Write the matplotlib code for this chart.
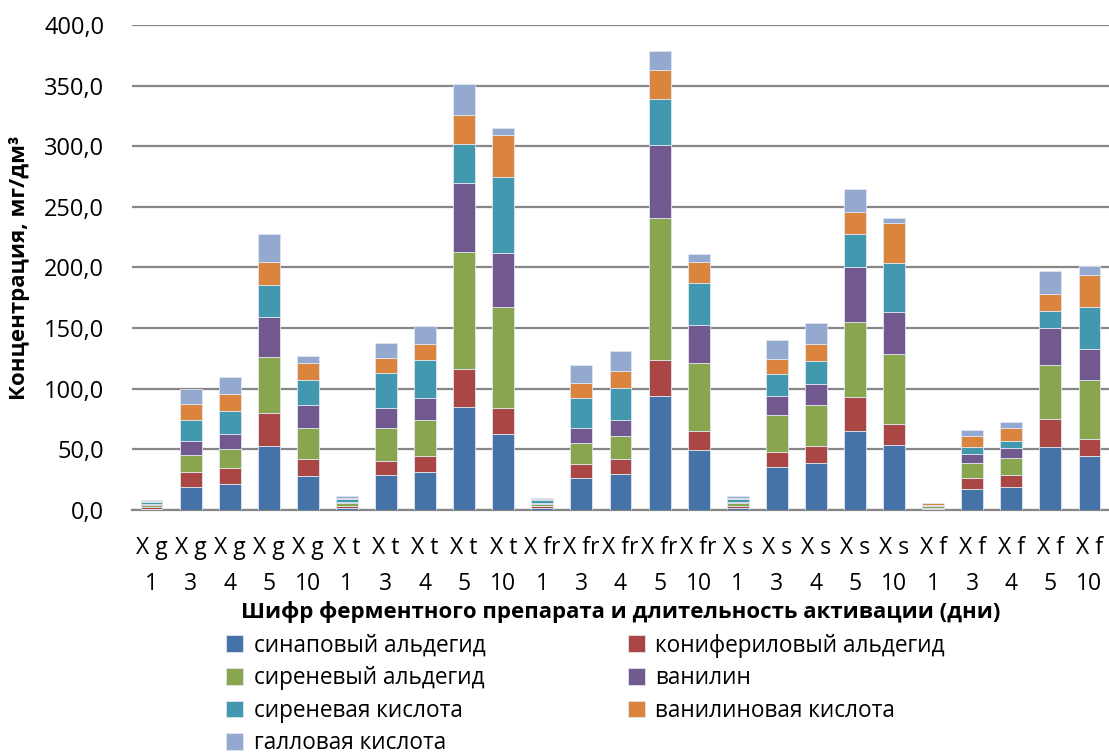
import matplotlib
matplotlib.use("Agg")
import matplotlib.pyplot as plt
import numpy as np

plt.rcParams['font.family'] = ['Open Sans', 'DejaVu Sans']

categories = ["X g\n1", "X g\n3", "X g\n4", "X g\n5", "X g\n10",
              "X t\n1", "X t\n3", "X t\n4", "X t\n5", "X t\n10",
              "X fr\n1", "X fr\n3", "X fr\n4", "X fr\n5", "X fr\n10",
              "X s\n1", "X s\n3", "X s\n4", "X s\n5", "X s\n10",
              "X f\n1", "X f\n3", "X f\n4", "X f\n5", "X f\n10"]

series_names = ["синаповый альдегид", "конифериловый альдегид",
                "сиреневый альдегид", "ванилин",
                "сиреневая кислота", "ванилиновая кислота",
                "галловая кислота"]

sinapaldehyde = [1.0, 19.2, 21.1, 52.4, 28.3,
                 2.0, 28.8, 31.3, 84.6, 62.6,
                 2.0, 26.4, 29.4, 94.2, 49.1,
                 2.0, 35.4, 38.7, 64.8, 53.6,
                 1.0, 17.3, 19.2, 51.9, 44.2]
coniferaldehyde = [1.5, 11.8, 13.5, 27.5, 13.7,
                   1.5, 11.8, 13.5, 31.9, 21.2,
                   1.0, 11.5, 12.3, 29.9, 15.7,
                   1.0, 12.6, 13.7, 28.0, 17.0,
                   1.0, 8.8, 9.6, 23.1, 14.0]
syringaldehyde = [1.5, 14.6, 15.6, 46.4, 25.6,
                  2.0, 26.7, 29.4, 96.4, 83.5,
                  2.0, 17.6, 19.3, 116.5, 56.6,
                  3.0, 30.5, 34.1, 62.1, 58.0,
                  1.0, 12.3, 13.7, 44.8, 49.4]
vanillin = [1.0, 11.2, 12.1, 32.5, 18.6,
            1.5, 16.5, 17.8, 57.1, 45.0,
            1.0, 12.1, 13.2, 60.7, 31.3,
            1.0, 15.7, 17.0, 45.1, 34.3,
            0.5, 7.7, 8.3, 29.9, 24.8]
syringic_acid = [1.5, 17.1, 19.0, 26.6, 20.6,
                 2.0, 28.8, 31.3, 32.2, 62.1,
                 2.0, 24.4, 26.8, 37.4, 34.4,
                 2.0, 17.6, 19.6, 27.2, 40.4,
                 1.0, 5.5, 6.1, 14.0, 35.4]
vanillic_acid = [1.0, 13.2, 14.6, 19.5, 14.3,
                 1.0, 12.4, 14.0, 23.9, 35.2,
                 1.0, 12.4, 13.6, 23.9, 17.3,
                 1.0, 12.6, 13.7, 18.7, 33.5,
                 1.0, 9.6, 10.4, 14.3, 26.4]
gallic_acid = [1.0, 12.9, 14.0, 23.1, 5.5,
               1.5, 12.6, 14.3, 25.5, 5.5,
               1.0, 15.1, 16.7, 15.7, 6.6,
               1.5, 16.2, 17.8, 18.7, 4.1,
               0.5, 4.7, 5.2, 19.0, 6.9]

series = [sinapaldehyde, coniferaldehyde, syringaldehyde, vanillin,
          syringic_acid, vanillic_acid, gallic_acid]
colors = ["#4572A7", "#AA4643", "#89A54E", "#71588F",
          "#4198AF", "#DB843D", "#93A9CF"]

fig = plt.figure(figsize=(11.09, 7.56), dpi=100)
ax = fig.add_axes([0.119, 0.3254, 0.881, 0.6416])

x = np.arange(len(categories))
bottom = np.zeros(len(categories))
handles = []
for name, vals, col in zip(series_names, series, colors):
    vals = np.array(vals)
    h = ax.bar(x, vals, width=0.56, bottom=bottom, color=col,
               edgecolor="#dfe6f0", linewidth=0.6, label=name, zorder=3)
    handles.append(h)
    bottom += vals

ax.set_xlim(-0.5, len(categories) - 0.5)
ax.set_ylim(0, 400)
ax.set_yticks(np.arange(0, 401, 50))
ax.set_yticklabels([f"{v:.1f}".replace(".", ",") for v in np.arange(0, 401, 50)],
                   fontsize=17)
ax.set_xticks(x)
ax.set_xticklabels(categories, linespacing=1.62, fontsize=16.5)
ax.tick_params(axis="both", length=0, colors="#000000")
ax.tick_params(axis="x", pad=19)
ax.tick_params(axis="y", pad=20)

ax.yaxis.grid(True, color="#878787", linewidth=1.6, zorder=0)
for side in ["left", "right", "top"]:
    ax.spines[side].set_visible(False)
ax.spines["bottom"].set_color("#878787")
ax.spines["bottom"].set_linewidth(1.6)

ax.set_ylabel("Концентрация, мг/дм³", fontsize=16, fontweight="bold", labelpad=10)
ax.set_xlabel("Шифр ферментного препарата и длительность активации (дни)",
              fontsize=16, fontweight="bold", labelpad=4)

order = [0, 2, 4, 6, 1, 3, 5]
leg = fig.legend([handles[i] for i in order], [series_names[i] for i in order],
                 ncol=2, loc="upper left", bbox_to_anchor=(0.196, 0.174),
                 frameon=False, fontsize=16.3, handlelength=0.75, handleheight=0.75,
                 handletextpad=0.45, columnspacing=6.3, labelspacing=0.38,
                 borderaxespad=0)

fig.savefig("out.png", dpi=100)
